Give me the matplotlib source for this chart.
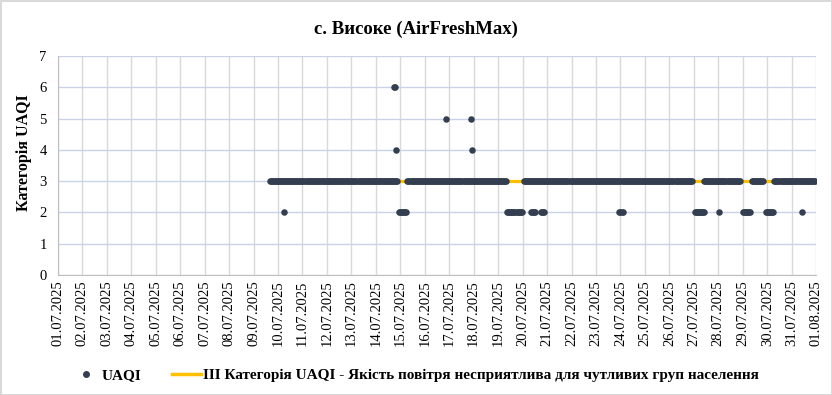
import pandas as pd
import matplotlib.pyplot as plt
import matplotlib.dates as mdates
from matplotlib.lines import Line2D

# hourly UAQI readings, stored as runs of constant value (start, end inclusive)
level3_runs = [
    ("2025-07-09 16:00", "2025-07-14 21:00"),
    ("2025-07-15 07:00", "2025-07-19 08:00"),
    ("2025-07-20 01:00", "2025-07-26 22:00"),
    ("2025-07-27 10:00", "2025-07-28 21:00"),
    ("2025-07-29 09:00", "2025-07-29 20:00"),
    ("2025-07-30 07:00", "2025-07-31 23:00"),
]
level2_runs = [
    ("2025-07-10 06:00", "2025-07-10 06:00"),
    ("2025-07-14 23:00", "2025-07-15 06:00"),
    ("2025-07-19 09:00", "2025-07-19 23:00"),
    ("2025-07-20 08:00", "2025-07-20 12:00"),
    ("2025-07-20 18:00", "2025-07-20 21:00"),
    ("2025-07-23 23:00", "2025-07-24 02:00"),
    ("2025-07-27 01:00", "2025-07-27 10:00"),
    ("2025-07-28 01:00", "2025-07-28 01:00"),
    ("2025-07-29 00:00", "2025-07-29 07:00"),
    ("2025-07-29 23:00", "2025-07-30 06:00"),
    ("2025-07-31 10:00", "2025-07-31 10:00"),
]
peak_times = ["2025-07-14 18:00", "2025-07-14 19:00", "2025-07-14 20:00",
              "2025-07-16 21:00", "2025-07-17 21:00", "2025-07-17 22:00"]
peak_values = [6, 6, 4, 5, 5, 4]

category_level = 3
x_start, x_end = "2025-07-01", "2025-08-01"
title = "с. Високе (AirFreshMax)"
ylabel = "Категорія UAQI"
label_points = "UAQI"
label_line = "ІІІ Категорія UAQI - Якість повітря несприятлива для чутливих груп населення"

frames = []
for runs, val in [(level3_runs, 3), (level2_runs, 2)]:
    for a, b in runs:
        t = pd.date_range(a, b, freq="h")
        frames.append(pd.DataFrame({"time": t, "uaqi": val}))
frames.append(pd.DataFrame({"time": pd.to_datetime(peak_times), "uaqi": peak_values}))
df = pd.concat(frames, ignore_index=True).sort_values("time")

plt.rcParams["font.family"] = ["Liberation Serif", "DejaVu Serif"]

fig = plt.figure(figsize=(8.32, 3.95), dpi=100)
fig.patch.set_edgecolor("#d9d9d9")
fig.patch.set_linewidth(2)
ax = fig.add_axes([0.0695, 0.3038, 0.9115, 0.5544])

dot_color = "#333f50"
line_color = "#ffc000"

ax.plot([df["time"].min(), df["time"].max()], [category_level, category_level],
        color=line_color, linewidth=2.3, zorder=2, solid_capstyle="butt")
ax.scatter(df["time"], df["uaqi"], s=22, color=dot_color, zorder=3, linewidths=0)

ax.set_xlim(pd.Timestamp(x_start), pd.Timestamp(x_end))
ax.set_ylim(0, 7)
ax.set_yticks(range(0, 8))
ax.xaxis.set_major_locator(mdates.DayLocator())
ax.xaxis.set_major_formatter(mdates.DateFormatter("%d.%m.%Y"))
for lbl in ax.get_xticklabels():
    lbl.set_rotation(90)
ax.tick_params(axis="x", labelsize=10.5, length=0, pad=4)
ax.tick_params(axis="y", labelsize=10.5, length=0, pad=8)

ax.grid(axis="x", color="#d9d9d9", linewidth=1)
ax.grid(axis="y", color="#c9d3e8", linewidth=1)
ax.set_axisbelow(True)
for s in ["top", "right"]:
    ax.spines[s].set_visible(False)
for s in ["left", "bottom"]:
    ax.spines[s].set_color("#bfbfbf")

ax.set_ylabel(ylabel, fontsize=11.5, fontweight="bold")
ax.yaxis.set_label_coords(-0.034, 0.56)
fig.text(0.5, 0.925, title, ha="center", va="center", fontsize=13.5, fontweight="bold")

handles = [
    Line2D([], [], marker="o", linestyle="none", color=dot_color, markersize=4),
    Line2D([], [], color=line_color, linewidth=2.5),
]
fig.legend(handles, [label_points, label_line], loc="center", bbox_to_anchor=(0.499, 0.05),
           ncol=2, frameon=False, prop={"size": 11, "weight": "bold"},
           handlelength=1.85, handletextpad=0.15, columnspacing=2.0)

fig.savefig("out.png", dpi=100)
